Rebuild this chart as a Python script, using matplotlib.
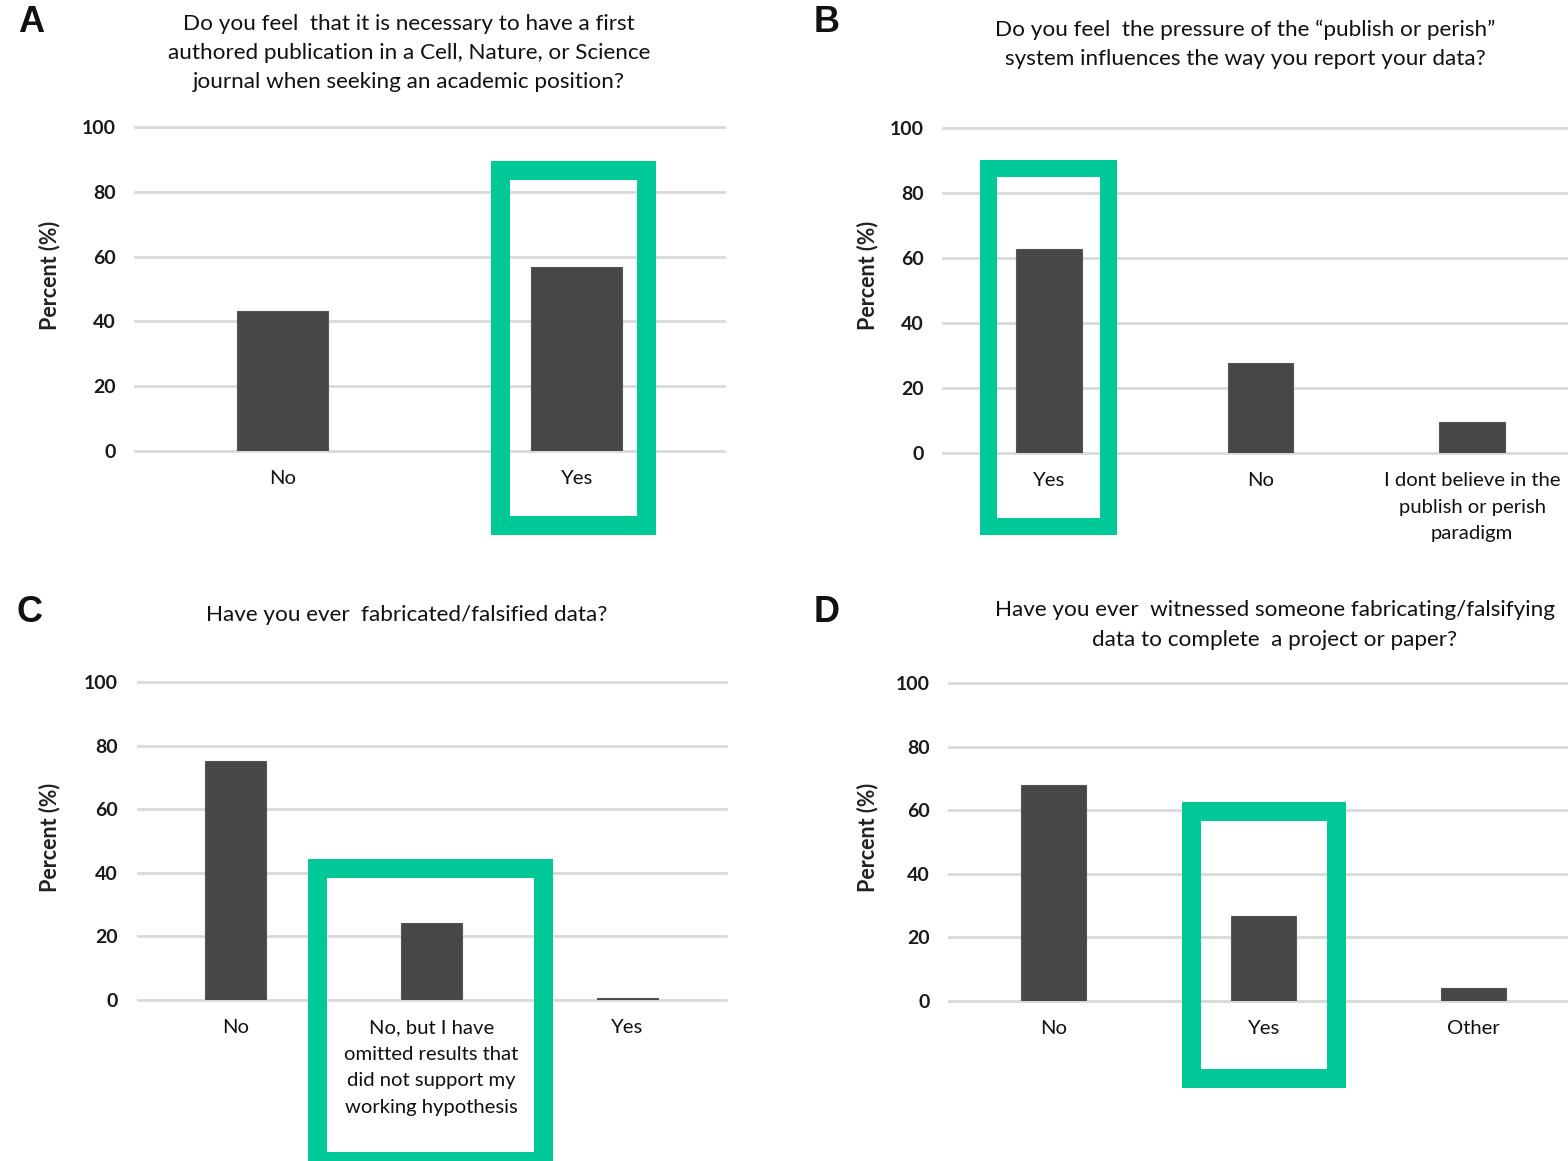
import matplotlib
matplotlib.use("Agg")
import matplotlib.pyplot as plt
from matplotlib.patches import Rectangle

# ---------------- data ----------------
cats_a = ["No", "Yes"]
vals_a = [43.1, 56.9]
title_a = "Do you feel  that it is necessary to have a first\nauthored publication in a Cell, Nature, or Science\njournal when seeking an academic position?"

cats_b = ["Yes", "No", "I dont believe in the\npublish or perish\nparadigm"]
vals_b = [62.8, 27.7, 9.5]
title_b = "Do you feel  the pressure of the \u201cpublish or perish\u201d\nsystem influences the way you report your data?"

cats_c = ["No", "No, but I have\nomitted results that\ndid not support my\nworking hypothesis", "Yes"]
vals_c = [75.2, 24.2, 0.6]
title_c = "Have you ever  fabricated/falsified data?"

cats_d = ["No", "Yes", "Other"]
vals_d = [67.9, 26.7, 4.1]
title_d = "Have you ever  witnessed someone fabricating/falsifying\ndata to complete  a project or paper?"

yticks = [0, 20, 40, 60, 80, 100]
ylabel = "Percent (%)"

# ---------------- layout ----------------
W, H = 1568, 1161
fig = plt.figure(figsize=(W / 100, H / 100), dpi=100)
FONT = ["Lato", "DejaVu Sans"]
BAR = "#474747"
GRID = "#d9d9d9"
GREEN = "#00c896"


def fx(x):
    return x / W


def fy(y):
    return 1 - y / H


def make_ax(left, right, top, bottom, cats, vals, ylab_x, ylab_y):
    ax = fig.add_axes([fx(left), fy(bottom), fx(right - left), (bottom - top) / H])
    x = list(range(len(cats)))
    ax.bar(x, vals, width=0.31, color=BAR, edgecolor="#555555", linewidth=0.8, zorder=3)
    ax.set_xlim(-0.5, len(cats) - 0.5)
    ax.set_ylim(0, 100)
    ax.set_yticks(yticks)
    ax.set_yticklabels([str(t) for t in yticks], fontsize=14, family=FONT, fontweight="bold", color="#1a1a1a")
    ax.set_xticks(x)
    ax.set_xticklabels(cats, fontsize=14.6, family=FONT, color="#111111", linespacing=1.67)
    ax.tick_params(axis="both", length=0)
    ax.tick_params(axis="y", pad=14)
    ax.tick_params(axis="x", pad=14)
    for s in ax.spines.values():
        s.set_visible(False)
    ax.yaxis.grid(True, color=GRID, linewidth=2, zorder=0)
    ax.set_axisbelow(True)
    for gl in ax.get_ygridlines():
        gl.set_clip_on(False)
    fig.text(fx(ylab_x), fy(ylab_y), ylabel, rotation=90, ha="center", va="center",
             fontsize=15.5, family=FONT, fontweight="bold", color="#222222")
    return ax


ax_a = make_ax(135, 724, 127, 451, cats_a, vals_a, 50, 275)
ax_b = make_ax(943, 1578, 128, 453, cats_b, vals_b, 868, 275)
ax_c = make_ax(137.5, 725.5, 682, 1000, cats_c, vals_c, 50, 837)
ax_d = make_ax(949, 1578.5, 683, 1001, cats_d, vals_d, 868, 837)

# titles
tkw = dict(ha="center", va="center", fontsize=16.2, family=FONT,
           linespacing=1.58, color="#111111")
fig.text(fx(409), fy(53), title_a, **tkw)
fig.text(fx(1245), fy(44), title_b, **tkw)
fig.text(fx(407), fy(615), title_c, **tkw)
fig.text(fx(1275), fy(625), title_d, **tkw)

# panel letters
for letter, (x, y) in zip("ABCD", [(31, 23), (827, 23), (30, 613), (827, 613)]):
    fig.text(fx(x), fy(y), letter, ha="center", va="center", fontsize=26, fontweight="bold",
             family=["Liberation Sans", "DejaVu Sans"], color="#111111")

# green highlight boxes (outer pixel bounds, border thickness)
boxes = [(491, 655, 160, 534, 19), (979, 1116, 160, 534, 17), (307, 552, 858, 1170, 19),
         (1181, 1345, 801, 1087, 19)]
for x0, x1, y0, y1, t in boxes:
    h = t / 2
    fig.patches.append(Rectangle((fx(x0 + h), fy(y1 - h)), fx(x1 - x0 - t), (y1 - y0 - t) / H,
                                 transform=fig.transFigure, fill=False, edgecolor=GREEN,
                                 linewidth=t * 0.72, joinstyle="miter", zorder=10))

fig.savefig("out.png", dpi=100)
